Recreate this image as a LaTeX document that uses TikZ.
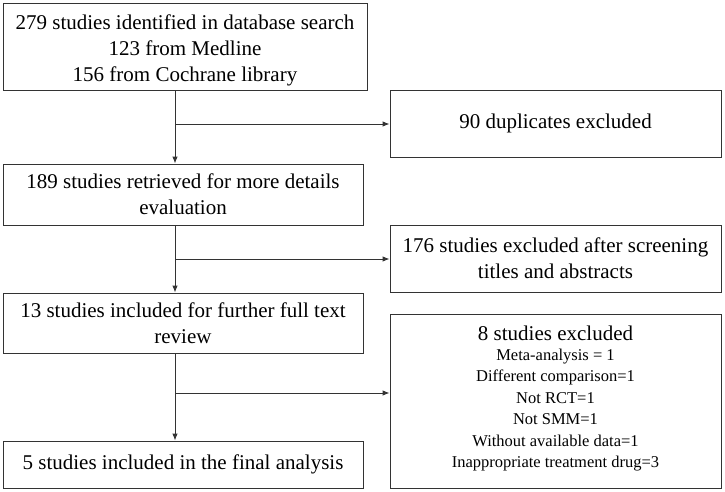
\documentclass[tikz,border=0pt]{standalone}
\usepackage{fontspec}
\setmainfont{Liberation Serif}
\usetikzlibrary{arrows.meta}
\begin{document}
\begin{tikzpicture}[x=1pt,y=-1pt,
  box/.style={draw=black!80, line width=0.9pt, inner sep=0pt, align=center,
    font=\fontsize{21}{26}\selectfont},
  arr/.style={draw=black!80, line width=0.9pt, -{Latex[length=7pt,width=5.5pt]}},
  ln/.style={draw=black!80, line width=0.9pt}]
\useasboundingbox (0,0) rectangle (725,492);
\node[box, minimum width=364pt, minimum height=87pt] (b1) at (185,46.5) {};
\node[inner sep=0pt, align=center, font=\fontsize{21}{26}\selectfont] (b1t) at (185,50)
  {279 studies identified in database search\\123 from Medline\\156 from Cochrane library};
\node[box, minimum width=331pt, minimum height=67pt] (b2) at (555.5,123.5)
  {90 duplicates excluded};
\node[box, minimum width=360pt, minimum height=61pt] (b3) at (183,194.5)
  {189 studies retrieved for more details\\evaluation};
\node[box, minimum width=331pt, minimum height=67pt] (b4) at (555.5,258.5)
  {176 studies excluded after screening\\titles and abstracts};
\node[box, minimum width=360pt, minimum height=60pt] (b5) at (183,323)
  {13 studies included for further full text\\review};
\node[draw=black!80, line width=0.9pt, minimum width=331pt, minimum height=174pt] (b6) at (555.5,401) {};
\node[inner sep=0pt, font=\fontsize{21}{26}\selectfont] (b6t) at (555.5,333)
  {8 studies excluded};
\node[align=center, inner sep=0pt, font=\fontsize{16.5}{21.5}\selectfont] (b6l) at (555.5,410)
  {Meta-analysis = 1\\Different comparison=1\\Not RCT=1\\Not SMM=1\\Without available data=1\\Inappropriate treatment drug=3};
\node[box, minimum width=360pt, minimum height=47pt] (b7) at (183,464.5)
  {5 studies included in the final analysis};
\coordinate (tx) at (175,0);
\coordinate (j1) at (175,124);
\coordinate (j2) at (175,259);
\coordinate (j3) at (175,393);
\draw[arr] (b1.south -| tx) -- (b3.north -| tx);
\draw[arr] (b3.south -| tx) -- (b5.north -| tx);
\draw[arr] (b5.south -| tx) -- (b7.north -| tx);
\draw[arr] (j1) -- (j1 -| b2.west);
\draw[arr] (j2) -- (j2 -| b4.west);
\draw[arr] (j3) -- (j3 -| b6.west);
\end{tikzpicture}
\end{document}
